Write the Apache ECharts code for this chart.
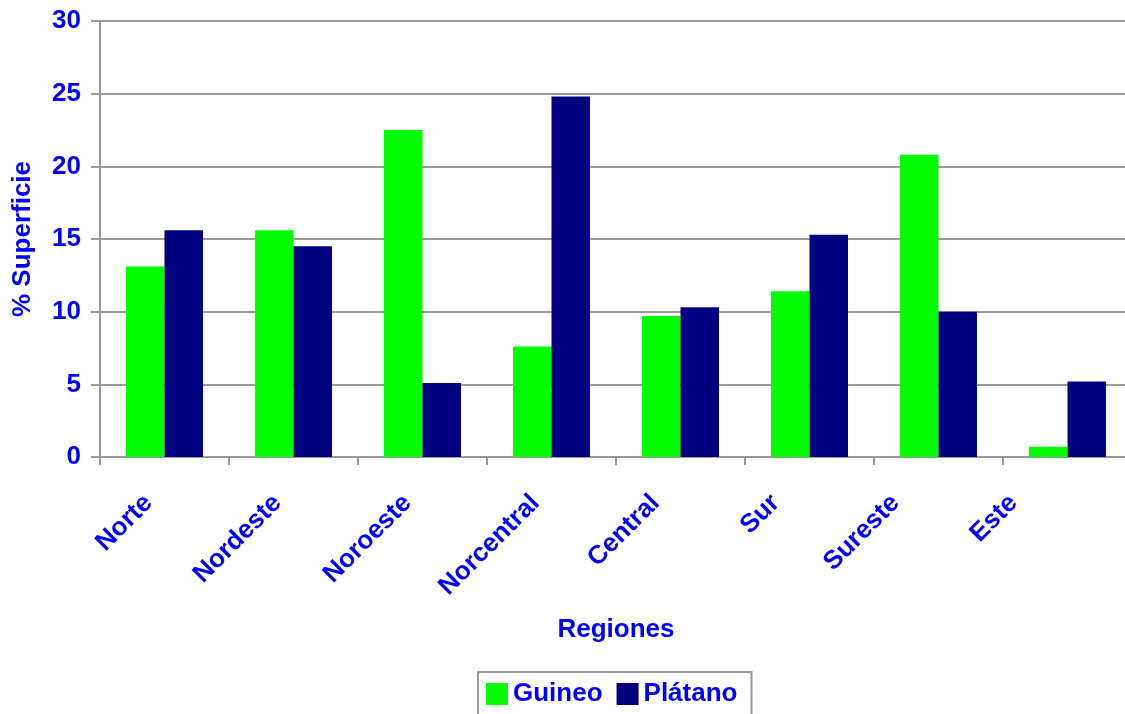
<!DOCTYPE html>
<html>
<head>
<meta charset="utf-8">
<script src="https://cdn.jsdelivr.net/npm/echarts@6/dist/echarts.min.js"></script>
<style>
html,body{margin:0;padding:0;background:#fff;}
#chart{width:1125px;height:714px;}
</style>
</head>
<body>
<div id="chart"></div>
<script>
const categories = ['Norte', 'Nordeste', 'Noroeste', 'Norcentral', 'Central', 'Sur', 'Sureste', 'Este'];
const guineo = [13.1, 15.6, 22.5, 7.6, 9.7, 11.4, 20.8, 0.7];
const platano = [15.6, 14.5, 5.1, 24.8, 10.3, 15.3, 10.0, 5.2];
const seriesNames = ['Guineo', 'Plátano'];
const yTicks = { min: 0, max: 30, interval: 5 };

const FONT = '"Liberation Sans", Arial, sans-serif';
const BLUE = '#0000FF';
const GRAY = '#9a9a9a';

// horizontal leftward shift of each rotated category label (as in the reference layout)
const labelShift = [16, 16, 15, 16, 25, 34, 43, 54];
const catData = categories.map((c, i) => {
  const a = labelShift[i] * Math.SQRT1_2;
  return { value: c, textStyle: { padding: [0, a, 0, 0], verticalAlign: 'bottom', lineHeight: 2 * a } };
});

const chart = echarts.init(document.getElementById('chart'), null, { renderer: 'canvas' });
chart.setOption({
  animation: false,
  backgroundColor: '#fff',
  grid: { left: 100, top: 21, right: -7, bottom: 257, containLabel: false, outerBoundsMode: 'none' },
  legend: {
    data: seriesNames,
    left: 478, top: 672,
    padding: [9, 14, 12, 8],
    borderColor: GRAY, borderWidth: 2,
    itemWidth: 22, itemHeight: 22, itemGap: 14,
    icon: 'rect',
    textStyle: { color: BLUE, fontFamily: FONT, fontWeight: 'bold', fontSize: 26 }
  },
  xAxis: {
    type: 'category',
    data: catData,
    boundaryGap: true,
    name: 'Regiones',
    nameLocation: 'middle',
    nameGap: 160,
    nameTextStyle: { color: BLUE, fontFamily: FONT, fontWeight: 'bold', fontSize: 26 },
    axisLine: { show: true, lineStyle: { color: GRAY, width: 2 } },
    axisTick: { show: true, length: 8, interval: 0, lineStyle: { color: GRAY, width: 2 } },
    axisLabel: { interval: 0, rotate: 45, margin: 42, color: BLUE, fontFamily: FONT, fontWeight: 'bold', fontSize: 26 },
    splitLine: { show: false }
  },
  yAxis: {
    type: 'value',
    min: yTicks.min, max: yTicks.max, interval: yTicks.interval,
    name: '% Superficie',
    nameLocation: 'middle',
    nameGap: 64,
    nameRotate: 90,
    nameTextStyle: { color: BLUE, fontFamily: FONT, fontWeight: 'bold', fontSize: 26 },
    axisLine: { show: true, lineStyle: { color: GRAY, width: 2 } },
    axisTick: { show: true, length: 9, lineStyle: { color: GRAY, width: 2 } },
    axisLabel: { margin: 19, color: BLUE, fontFamily: FONT, fontWeight: 'bold', fontSize: 26 },
    splitLine: { show: true, lineStyle: { color: GRAY, width: 2 } }
  },
  series: [
    { name: seriesNames[0], type: 'bar', data: guineo, barWidth: 38.5, barGap: '0%', itemStyle: { color: '#00FF00' } },
    { name: seriesNames[1], type: 'bar', data: platano, barWidth: 38.5, barGap: '0%', itemStyle: { color: '#000080' } }
  ]
});
</script>
</body>
</html>
